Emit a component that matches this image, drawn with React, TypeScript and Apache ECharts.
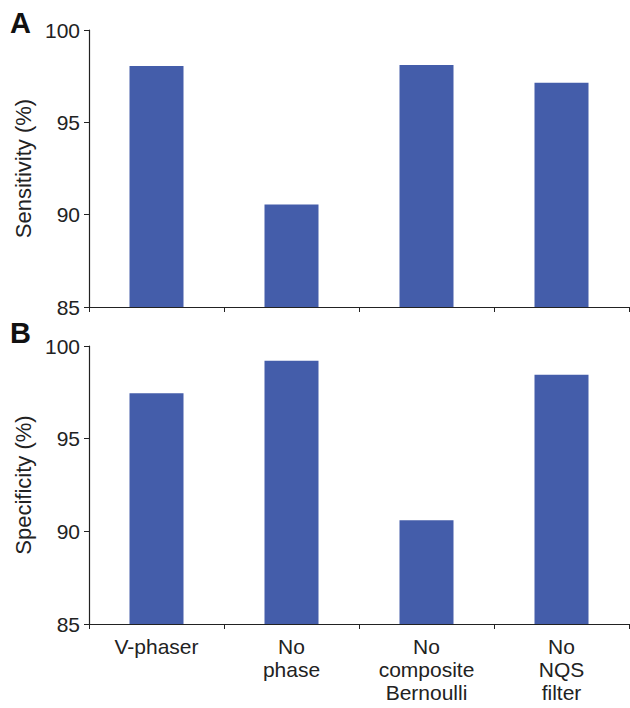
import React, { useEffect, useRef } from "react";
import * as echarts from "echarts";

const categories = ["V-phaser", "No\nphase", "No\ncomposite\nBernoulli", "No\nNQS\nfilter"];
const sensitivity = [98.05, 90.55, 98.1, 97.15];
const specificity = [97.45, 99.2, 90.6, 98.45];
const yTicks = { min: 85, max: 100, interval: 5 };

const FONT = "'Liberation Sans', Arial, sans-serif";
const BAR = "#445DAA";
const AX = "#222";

export default function App() {
  const ref = useRef<HTMLDivElement>(null);
  useEffect(() => {
    const chart = echarts.init(ref.current!, undefined, { renderer: "svg" });
    const yAxisBase = (name: string, idx: number) => ({
      type: "value",
      gridIndex: idx,
      min: yTicks.min,
      max: yTicks.max,
      interval: yTicks.interval,
      name,
      nameLocation: "middle",
      nameGap: 55,
      nameTextStyle: { fontFamily: FONT, fontSize: 22, color: "#222" },
      axisLine: { show: true, lineStyle: { color: AX, width: 1.2 } },
      axisTick: { show: true, length: 5, lineStyle: { color: AX } },
      axisLabel: { fontFamily: FONT, fontSize: 21, color: "#222", margin: 9 },
      splitLine: { show: false },
    });
    const xAxisBase = (idx: number, showLabel: boolean) => ({
      type: "category",
      gridIndex: idx,
      data: categories,
      axisLine: { show: true, lineStyle: { color: AX, width: 1.2 } },
      axisTick: { show: true, length: 5, alignWithLabel: false, lineStyle: { color: AX } },
      axisLabel: {
        show: showLabel,
        fontFamily: FONT,
        fontSize: 21,
        lineHeight: 23,
        color: "#222",
        margin: 11,
        interval: 0,
      },
    });
    chart.setOption({
      animation: false,
      grid: [
        { left: 89, top: 30, right: 1, height: 277 },
        { left: 89, top: 346, right: 1, height: 278 },
      ],
      xAxis: [xAxisBase(0, false), xAxisBase(1, true)],
      yAxis: [yAxisBase("Sensitivity (%)", 0), yAxisBase("Specificity (%)", 1)],
      series: [
        {
          type: "bar",
          xAxisIndex: 0,
          yAxisIndex: 0,
          data: sensitivity,
          barWidth: "40%",
          itemStyle: { color: BAR },
        },
        {
          type: "bar",
          xAxisIndex: 1,
          yAxisIndex: 1,
          data: specificity,
          barWidth: "40%",
          itemStyle: { color: BAR },
        },
      ],
      graphic: [
        {
          type: "text",
          left: 10,
          top: 8,
          style: { text: "A", fontFamily: FONT, fontSize: 29, fontWeight: "bold", fill: "#111" },
        },
        {
          type: "text",
          left: 10,
          top: 318,
          style: { text: "B", fontFamily: FONT, fontSize: 29, fontWeight: "bold", fill: "#111" },
        },
      ],
    });
    return () => chart.dispose();
  }, []);
  return (
    <div
      ref={ref}
      style={{ position: "fixed", left: 0, top: 0, width: 630, height: 708, background: "#fff" }}
    />
  );
}
